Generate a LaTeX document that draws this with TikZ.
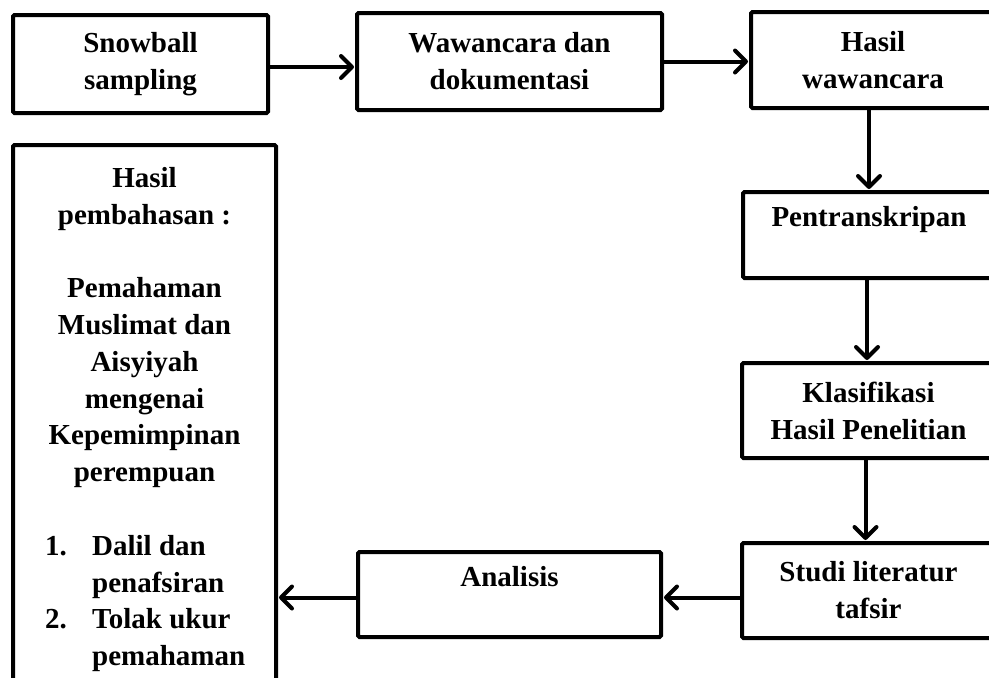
\documentclass[tikz,border=0pt]{standalone}
\usepackage{fontspec}
\setmainfont{Liberation Serif}
\usetikzlibrary{arrows.meta}
\begin{document}
\begin{tikzpicture}[x=1pt,y=-1pt,
  box/.style={draw=black, line width=4pt, rectangle, rounded corners=1.5pt, inner sep=0pt,
    align=center, font=\bfseries\fontsize{29}{37}\selectfont},
  txt/.style={inner sep=0pt, font=\bfseries\fontsize{29}{36.8}\selectfont},
  flow/.style={line width=4pt, -{Straight Barb[length=11pt,width=22pt,round]}, shorten >=1pt}
]
\useasboundingbox (0,0) rectangle (989,678);
\clip (0,0) rectangle (989,678);
% boxes
\node[box, minimum width=255pt, minimum height=98pt] (snow) at (140.5,64) {Snowball\\sampling};
\node[box, minimum width=305pt, minimum height=97pt] (wawan) at (509.5,61.5) {Wawancara dan\\dokumentasi};
\node[box, minimum width=244pt, minimum height=96pt] (hasil) at (873,60) {Hasil\\wawancara};
\node[box, minimum width=252pt, minimum height=86pt] (pent) at (869,235) {Pentranskripan\\\mbox{}};
\node[box, minimum width=253pt, minimum height=95pt] (klas) at (868.5,410.5) {Klasifikasi\\Hasil Penelitian};
\node[box, minimum width=253pt, minimum height=95pt] (studi) at (868.5,590.5) {Studi literatur\\tafsir};
\node[box, minimum width=303pt, minimum height=85pt] (anal) at (509.5,594.5) {Analisis\\\mbox{}};
\node[box, minimum width=263pt, minimum height=555pt] (left) at (144.5,422.5) {};
% left box text
\node[txt, align=center, anchor=north] (lefttop) at (144.5,167) {Hasil\\pembahasan :\\\mbox{}\\Pemahaman\\Muslimat dan\\Aisyiyah\\mengenai\\Kepemimpinan\\perempuan};
\node[txt, align=left, anchor=north west] (leftlist) at (45,535) {\makebox[47pt][l]{1.}Dalil dan\\\hspace*{47pt}penafsiran\\\makebox[47pt][l]{2.}Tolak ukur\\\hspace*{47pt}pemahaman};
% connectors
\draw[flow] ([yshift=-3pt]snow.east) -- ([yshift=-3pt]snow.east -| wawan.west);
\draw[flow] (wawan.east) -- (wawan.east -| hasil.west);
\draw[flow] ([xshift=-4pt]hasil.south) -- ([xshift=-4pt]hasil.south |- pent.north);
\draw[flow] ([xshift=-2pt]pent.south) -- ([xshift=-2pt]pent.south |- klas.north);
\draw[flow] ([xshift=-3pt]klas.south) -- ([xshift=-3pt]klas.south |- studi.north);
\draw[flow] ([yshift=-7pt]studi.west) -- ([yshift=-7pt]studi.west -| anal.east);
\draw[flow] ([yshift=-3pt]anal.west) -- ([yshift=-3pt]anal.west -| left.east);
\end{tikzpicture}
\end{document}
